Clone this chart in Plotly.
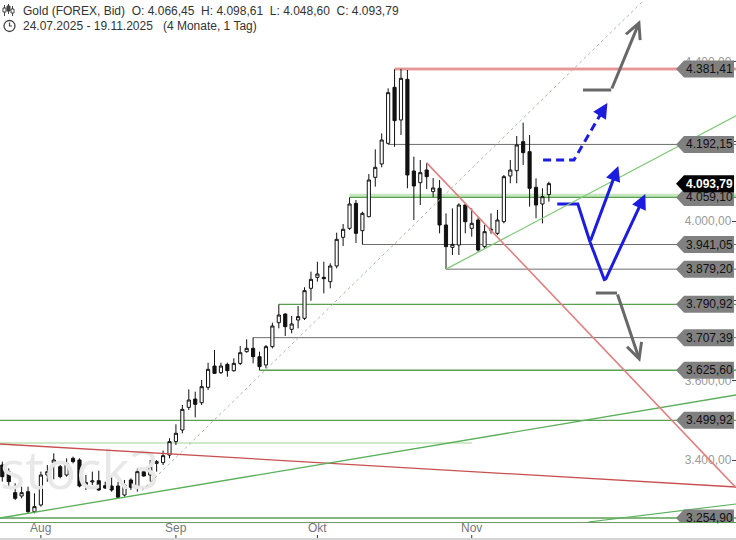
import plotly.graph_objects as go
import pandas as pd

# ---------------- data ----------------
# trading days shown (incl. the short Sunday session at the DST change)
dates = sorted(list(pd.bdate_range("2025-07-24", "2025-11-19")) + [pd.Timestamp("2025-10-26")])

open_ = [3387.9, 3371.2, 3318.5, 3310.1, 3321.0, 3270.8, 3287.6, 3362.8, 3393.8, 3383.7,
         3362.8, 3404.6, 3400.5, 3343.6, 3345.3, 3348.6, 3336.1, 3335.2, 3335.2, 3312.6,
         3350.3, 3329.4, 3371.2, 3362.8, 3392.1, 3393.8, 3413.0, 3446.5, 3475.7, 3532.5,
         3553.4, 3544.2, 3582.7, 3636.2, 3619.5, 3640.4, 3624.5, 3642.9, 3672.2, 3680.6,
         3659.7, 3638.8, 3684.8, 3745.0, 3766.7, 3728.3, 3751.7, 3755.9, 3831.1, 3858.7,
         3858.7, 3847.9, 3887.2, 3959.1, 3981.7, 4044.4, 3975.8, 4010.9, 4109.6, 4143.1,
         4194.9, 4335.4, 4253.5, 4355.5, 4125.5, 4096.2, 4128.0, 4073.7, 4082.0, 3990.0,
         3934.0, 3939.8, 4040.2, 3981.7, 4002.6, 3935.7, 3977.0, 3969.1, 3998.4, 4113.0,
         4126.3, 4199.1, 4174.0, 4084.5, 4042.7, 4066.45]
high = [3396.3, 3379.5, 3341.9, 3333.5, 3333.5, 3316.8, 3371.2, 3387.9, 3417.2, 3387.9,
        3404.6, 3408.8, 3404.6, 3362.8, 3371.2, 3373.7, 3346.1, 3358.6, 3346.1, 3350.3,
        3354.5, 3379.5, 3375.4, 3400.5, 3400.5, 3423.9, 3454.8, 3490.0, 3538.4, 3577.7,
        3571.8, 3601.1, 3644.6, 3676.4, 3644.6, 3644.6, 3655.5, 3686.4, 3703.1, 3707.39,
        3672.2, 3689.0, 3745.0, 3790.92, 3768.4, 3761.7, 3786.8, 3833.7, 3873.0, 3898.0,
        3898.0, 3893.9, 3970.8, 3992.5, 4059.10, 4052.8, 4023.5, 4118.0, 4179.9, 4220.0,
        4332.9, 4380.6, 4381.41, 4378.9, 4161.5, 4153.1, 4146.0, 4108.0, 4103.0, 4019.3,
        4031.8, 4044.4, 4044.4, 4031.8, 4009.3, 3990.0, 4019.3, 4027.7, 4115.5, 4153.1,
        4213.3, 4246.8, 4215.8, 4107.1, 4082.0, 4098.61]
low = [3346.1, 3329.4, 3300.1, 3304.3, 3265.0, 3266.6, 3283.4, 3346.1, 3352.0, 3354.5,
       3358.6, 3392.1, 3331.9, 3325.2, 3337.7, 3323.5, 3327.7, 3321.0, 3305.1, 3308.5,
       3325.2, 3321.0, 3358.6, 3346.1, 3371.2, 3387.9, 3404.6, 3438.1, 3467.3, 3525.8,
       3507.4, 3538.4, 3576.0, 3616.2, 3616.2, 3609.5, 3622.0, 3638.7, 3669.7, 3643.0,
       3625.60, 3630.4, 3680.6, 3730.8, 3711.6, 3718.2, 3730.8, 3751.7, 3800.0, 3847.9,
       3818.6, 3831.1, 3881.3, 3937.3, 3977.5, 3945.0, 3941.05, 4009.3, 4086.2, 4134.7,
       4192.15, 4186.0, 4215.8, 4082.0, 4002.6, 4040.2, 4080.0, 4060.0, 3969.1, 3879.20,
       3914.8, 3914.8, 3969.1, 3960.8, 3923.1, 3931.5, 3968.0, 3964.9, 3994.2, 4094.6,
       4094.6, 4140.6, 4036.0, 4006.8, 3994.2, 4048.60]
close = [3358.6, 3346.1, 3304.3, 3318.5, 3270.8, 3283.4, 3362.8, 3371.2, 3400.5, 3358.6,
         3392.1, 3396.3, 3335.2, 3338.6, 3347.8, 3325.2, 3330.2, 3325.2, 3306.8, 3337.7,
         3331.9, 3371.2, 3360.3, 3383.7, 3396.3, 3411.3, 3446.5, 3467.4, 3527.5, 3550.9,
         3540.1, 3584.4, 3627.9, 3617.8, 3636.2, 3624.5, 3642.9, 3669.7, 3680.6, 3659.7,
         3634.6, 3684.8, 3736.6, 3764.2, 3735.0, 3741.7, 3760.1, 3825.3, 3853.7, 3867.1,
         3855.4, 3887.2, 3954.1, 3979.2, 4042.7, 3969.1, 4019.3, 4102.9, 4134.7, 4203.3,
         4322.0, 4251.8, 4358.0, 4115.5, 4087.9, 4121.3, 4111.3, 4083.0, 3990.0, 3935.7,
         3941.5, 4040.2, 3998.4, 3994.2, 3927.3, 3973.3, 3979.0, 4002.6, 4111.3, 4128.0,
         4190.7, 4171.5, 4082.0, 4040.2, 4061.1, 4093.79]

instrument = "Gold (FOREX, Bid)"
period_text = "(4 Monate, 1 Tag)"
month_labels = ["Aug", "Sep", "Okt", "Nov"]

# labelled horizontal levels
level_prices = [4381.41, 4192.15, 4059.10, 3941.05, 3879.20, 3790.92, 3707.39, 3625.60, 3499.92, 3254.90]
level_start = [61, 60, 54, 56, 69, 43, 39, 40, -0.36, -0.36]
level_kind = ["red", "gray", "green", "gray", "gray", "green", "gray", "green", "green", "green"]
# unlabelled light level
light_level_price = 3443.0
light_level_span = [-0.36, 73]
band_4059_price = 4063.5

# trend lines: (x0 index, y0 price, x1 index, y1 price)
red_long = [-0.36, 3440.6, 114.1, 3332.7]
green_long = [-0.36, 3254.9, 114.1, 3563.5]
green_low_right = [91.1, 3244.9, 114.1, 3290.1]
green_rise = [69, 3879.2, 114.1, 4264.0]
red_steep = [66, 4146.0, 114.1, 3331.0]
dotted_trend = [21.7, 3323.4, 99.8, 4554.5]

# hand drawn scenario arrows (index, price)
blue_dash_x = [84.1, 88.9, 93.3]
blue_dash_y = [4153.1, 4153.1, 4275.0]
blue_dash_tip = [94.1, 4296.1]
blue1_x = [86.3, 89.5, 91.4]
blue1_y = [4042.7, 4042.7, 3947.4]
blue1_tip = [95.8, 4138.1]
blue2_x = [91.4, 93.7]
blue2_y = [3947.4, 3849.5]
blue2_tip = [100.0, 4067.8]
gray_up_x = [90.3, 94.7]
gray_up_y = [4328.7, 4328.7]
gray_up_tip = [99.2, 4504.3]
gray_dn_x = [92.3, 95.6]
gray_dn_y = [3819.4, 3819.4]
gray_dn_tip = [99.2, 3646.3]

X_RANGE = [-0.36, 114.1]
Y_RANGE = [3244.9, 4554.5]

FONT = "Liberation Sans, Arial, sans-serif"


def de(v):
    return f"{v:,.2f}".replace(",", "X").replace(".", ",").replace("X", ".")


x = list(range(len(dates)))
tick_idx = []
for i, d in enumerate(dates):
    if i == 0 or d.month != dates[i - 1].month:
        if d.month != dates[0].month:
            tick_idx.append(i)

fig = go.Figure()

# watermark (behind candles)
fig.add_trace(go.Scatter(x=[X_RANGE[0]], y=[3362.0], mode="text", text=["stock3"],
                         textposition="middle right",
                         textfont=dict(family="Open Sans, Arial", size=53, color="#e8e8e8"),
                         hoverinfo="skip", showlegend=False))

fig.add_trace(go.Candlestick(
    x=x, open=open_, high=high, low=low, close=close,
    increasing=dict(line=dict(color="#111111", width=1), fillcolor="#ffffff"),
    decreasing=dict(line=dict(color="#111111", width=1), fillcolor="#111111"),
    whiskerwidth=0, showlegend=False, hoverinfo="skip"))

shapes = []
annotations = []

colors = {"red": "#d06060", "gray": "#6e6e6e", "green": "#5aa050"}


def seg(x0, y0, x1, y1, color, width, dash="solid", layer="above"):
    shapes.append(dict(type="line", xref="x", yref="y", x0=x0, y0=y0, x1=x1, y1=y1,
                       line=dict(color=color, width=width, dash=dash), layer=layer))


# light level and 4059 band
seg(light_level_span[0], light_level_price, light_level_span[1], light_level_price, "#cfeac8", 2, layer="below")
seg(level_start[2], band_4059_price, X_RANGE[1], band_4059_price, "#c6e8be", 4, layer="below")
seg(level_start[0], level_prices[0], X_RANGE[1], level_prices[0], "rgba(232,120,120,0.35)", 4, layer="below")

for p, s, k in zip(level_prices, level_start, level_kind):
    w = 1.3 if k == "green" else 1
    seg(s, p, X_RANGE[1], p, colors[k], w, layer="below")

# trend lines
seg(*red_long, "#c85050", 1.3)
seg(*green_long, "#5cb05c", 1.3)
seg(*green_low_right, "#5cb05c", 1.2)
seg(*green_rise, "#80c878", 1.3)
seg(*red_steep, "#e08080", 1.6)
seg(*dotted_trend, "#a8bca8", 1, dash="dot")

# scenario arrows
BLUE = "#1c1ce0"
GRAY = "#686868"
fig.add_trace(go.Scatter(x=blue_dash_x, y=blue_dash_y, mode="lines",
                         line=dict(color=BLUE, width=3, dash="8px,5px"), hoverinfo="skip", showlegend=False))
for xs, ys, c in [(blue1_x, blue1_y, BLUE), (blue2_x, blue2_y, BLUE), (gray_up_x, gray_up_y, GRAY), (gray_dn_x, gray_dn_y, GRAY)]:
    fig.add_trace(go.Scatter(x=xs, y=ys, mode="lines", line=dict(color=c, width=3),
                             hoverinfo="skip", showlegend=False))

annotations.append(dict(x=blue_dash_tip[0], y=blue_dash_tip[1], xref="x", yref="y", ax=blue_dash_x[-1], ay=blue_dash_y[-1],
                        axref="x", ayref="y", showarrow=True, arrowhead=2, arrowsize=1, arrowwidth=3, arrowcolor=BLUE, text=""))
for xs, ys, tip, c, head in [(blue1_x, blue1_y, blue1_tip, BLUE, 2), (blue2_x, blue2_y, blue2_tip, BLUE, 2),
                             (gray_up_x, gray_up_y, gray_up_tip, GRAY, 5), (gray_dn_x, gray_dn_y, gray_dn_tip, GRAY, 5)]:
    annotations.append(dict(x=tip[0], y=tip[1], xref="x", yref="y", ax=xs[-1], ay=ys[-1], axref="x", ayref="y",
                            showarrow=True, arrowhead=head, arrowsize=1, arrowwidth=3, arrowcolor=c, text=""))

# price boxes on the right
BOX = "M-60,0 L-52,8.5 L-2,8.5 L-2,-8.5 L-52,-8.5 Z"


def price_box(p, fill, tcolor, bold=False):
    shapes.append(dict(type="path", xref="paper", xsizemode="pixel", xanchor=1,
                       yref="y", ysizemode="pixel", yanchor=p, path=BOX,
                       fillcolor=fill, line=dict(width=0), layer="above"))
    t = de(p)
    if bold:
        t = "<b>" + t + "</b>"
    annotations.append(dict(xref="paper", x=1, xanchor="center", xshift=-27, yref="y", y=p,
                            yanchor="middle", text=t, showarrow=False,
                            font=dict(family=FONT, size=12, color=tcolor)))


for p in level_prices:
    price_box(p, "#808080", "#111111")
price_box(close[-1], "#000000", "#ffffff", bold=True)

# month labels with small tick marks below them, grey bottom border
xspan = X_RANGE[1] - X_RANGE[0]
for ti, lab in zip(tick_idx, month_labels):
    px = (ti - X_RANGE[0]) / xspan
    annotations.append(dict(xref="paper", x=px, yref="paper", y=0, xanchor="center", yanchor="middle",
                            yshift=-6, text=lab, showarrow=False,
                            font=dict(family=FONT, size=12, color="#777777")))
    shapes.append(dict(type="line", xref="paper", x0=px, x1=px, yref="paper", ysizemode="pixel", yanchor=0,
                       y0=-13, y1=-17, line=dict(color="#333333", width=1)))
shapes.append(dict(type="rect", xref="paper", x0=0, x1=1, yref="paper", ysizemode="pixel", yanchor=0,
                   y0=-16, y1=-18, fillcolor="#d4d4d4", line=dict(width=0)))

# header icons (candles + clock)
icon = "#444444"
for cx, wt, wb, bt, bb, filled in [(4.5, 5, 16, 8, 12, False), (8.5, 4, 14, 6, 11, True), (12.5, 6, 16, 9, 13, False)]:
    shapes.append(dict(type="line", xref="paper", xsizemode="pixel", xanchor=0, x0=cx, x1=cx,
                       yref="paper", ysizemode="pixel", yanchor=1, y0=-wt, y1=-wb, line=dict(color=icon, width=1)))
    shapes.append(dict(type="rect", xref="paper", xsizemode="pixel", xanchor=0, x0=cx - 1.5, x1=cx + 1.5,
                       yref="paper", ysizemode="pixel", yanchor=1, y0=-bt, y1=-bb,
                       fillcolor=icon if filled else "#ffffff", line=dict(color=icon, width=1)))
shapes.append(dict(type="circle", xref="paper", xsizemode="pixel", xanchor=0, x0=4, x1=15,
                   yref="paper", ysizemode="pixel", yanchor=1, y0=-20.5, y1=-31.5,
                   line=dict(color=icon, width=1.3)))
shapes.append(dict(type="path", xref="paper", xsizemode="pixel", xanchor=0,
                   yref="paper", ysizemode="pixel", yanchor=1,
                   path="M9.5,-22.5 L9.5,-26 L12,-26", line=dict(color=icon, width=1.2)))

header1 = (f"{instrument}\u00a0\u00a0O: {de(open_[-1])}\u00a0\u00a0H: {de(high[-1])}"
           f"\u00a0\u00a0L: {de(low[-1])}\u00a0\u00a0C: {de(close[-1])}")
header2 = f"{dates[0]:%d.%m.%Y} - {dates[-1]:%d.%m.%Y}\u00a0\u00a0\u00a0{period_text}"
annotations.append(dict(xref="paper", yref="paper", x=0, y=1, xanchor="left", yanchor="middle",
                        xshift=21, yshift=-11, text=header1, showarrow=False,
                        font=dict(family=FONT, size=12, color="#333333")))
annotations.append(dict(xref="paper", yref="paper", x=0, y=1, xanchor="left", yanchor="middle",
                        xshift=21, yshift=-26, text=header2, showarrow=False,
                        font=dict(family=FONT, size=12, color="#333333")))

fig.update_layout(
    width=736, height=540,
    margin=dict(l=0, r=0, t=0, b=18),
    paper_bgcolor="#ffffff", plot_bgcolor="#ffffff",
    separators=",.",
    showlegend=False,
    shapes=shapes, annotations=annotations,
    xaxis=dict(range=X_RANGE, rangeslider=dict(visible=False), showgrid=False, zeroline=False,
               tickmode="array", tickvals=tick_idx, ticktext=month_labels, ticks="",
               showticklabels=False,
               showline=True, linecolor="#6f9a66", linewidth=1),
    yaxis=dict(range=Y_RANGE, side="right", ticklabelposition="inside", ticks="inside", ticklen=4,
               tickcolor="#444444", tick0=0, dtick=200, tickformat=",.2f", showgrid=False, zeroline=False,
               tickfont=dict(family=FONT, size=12, color="#9a9a9a")),
)

fig.write_html("out.html", config={"displayModeBar": False},
               post_script="document.body.style.margin='0';document.body.style.overflow='hidden';")
